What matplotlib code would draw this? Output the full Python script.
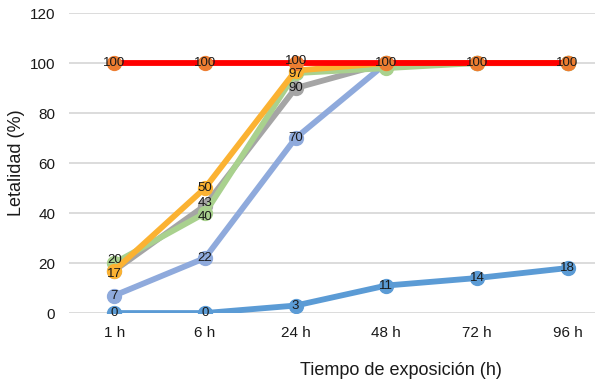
import matplotlib.pyplot as plt

plt.rcParams['font.family'] = ['Liberation Sans', 'DejaVu Sans']

horas = ['1 h', '6 h', '24 h', '48 h', '72 h', '96 h']

# letalidad (%) por tratamiento
serie_azul = [0, 0, 3, 11, 14, 18]
serie_celeste = [7, 22, 70, 100, 100, 100]
serie_gris = [17, 43, 90, 100, 100, 100]
serie_verde = [20, 40, 96, 98, 100, 100]
serie_dorada = [17, 50, 97, 100, 100, 100]
serie_roja = [100, 100, 100, 100, 100, 100]

# que etiquetas se muestran en cada serie
etq_azul = [1, 1, 1, 1, 1, 1]
etq_celeste = [1, 1, 1, 0, 0, 0]
etq_gris = [0, 1, 1, 0, 0, 0]
etq_verde = [1, 1, 0, 0, 0, 0]
etq_dorada = [1, 1, 1, 0, 0, 0]
etq_roja = [1, 1, 1, 1, 1, 1]

fig = plt.figure(figsize=(5.95, 3.86), dpi=100)
ax = fig.add_axes([0.116, 0.189, 0.914, 0.777])

x = range(len(horas))
series = [
    (serie_azul, etq_azul, '#5B9BD5', '#5B9BD5'),
    (serie_celeste, etq_celeste, '#8FAADC', '#8FAADC'),
    (serie_gris, etq_gris, '#A5A5A5', '#A5A5A5'),
    (serie_verde, etq_verde, '#A9D18E', '#A9D18E'),
    (serie_dorada, etq_dorada, '#FBB232', '#FBB232'),
    (serie_roja, etq_roja, '#FF0000', '#ED7D31'),
]

for i, (vals, etq, col, mcol) in enumerate(series):
    ax.plot(x, vals, color=col, lw=4.2, marker='o', ms=10,
            mfc=mcol, mec=mcol, zorder=3 + i, solid_capstyle='round')

# pequeños desplazamientos (en puntos) para etiquetas muy juntas
desp = {(2, 1): 1.5, (3, 0): 2.0, (3, 1): -2.5, (4, 0): -2.5,
        (4, 2): -2.5, (5, 2): 1.5}

for si, (vals, etq, col, mcol) in enumerate(series):
    for xi, v, e in zip(x, vals, etq):
        if e:
            ax.annotate(str(v), (xi, v), xytext=(0, desp.get((si, xi), 0)),
                        textcoords='offset points', ha='center', va='center',
                        fontsize=9.5, color='#1a1a1a', zorder=20)

ax.set_xlim(-0.5, 5.5)
ax.set_ylim(0, 120)
ax.set_yticks(range(0, 121, 20))
ax.set_xticks(list(x))
ax.set_xticklabels(horas)
ax.grid(axis='y', color='#D9D9D9', lw=1.3)
ax.set_axisbelow(True)
for s in ax.spines.values():
    s.set_visible(False)
ax.tick_params(length=0, labelsize=11, colors='#1a1a1a')
ax.tick_params(axis='y', pad=10)
ax.tick_params(axis='x', pad=9)

fig.text(0.674, 0.04, 'Tiempo de exposición (h)', ha='center', va='center',
         fontsize=13, color='#1a1a1a')
fig.text(0.027, 0.578, 'Letalidad (%)', ha='center', va='center',
         rotation=90, fontsize=13, color='#1a1a1a')

fig.savefig('out.png', dpi=100)
